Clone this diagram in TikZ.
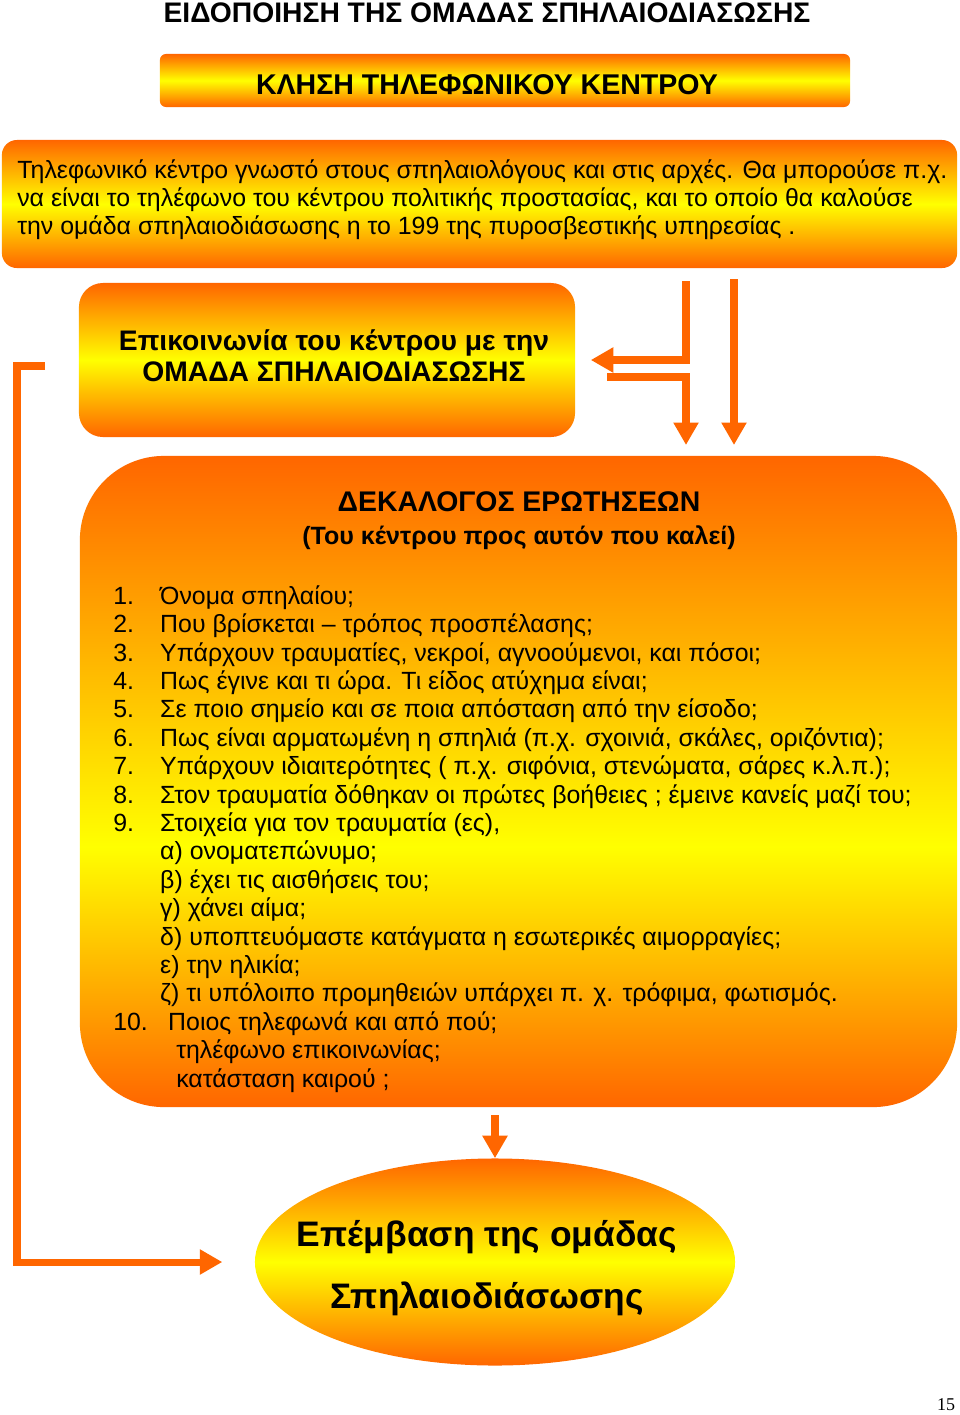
\documentclass[tikz,border=0pt]{standalone}
\usepackage{fontspec}
\setmainfont{Liberation Sans}
\newfontfamily\pagefont{Liberation Serif}
\usetikzlibrary{arrows.meta,positioning,shapes.geometric}

\definecolor{cavorange}{RGB}{255,102,0}
\definecolor{cavyellow}{RGB}{255,255,0}

% yellow band a little below the middle of the big box
\pgfdeclareverticalshading{cavbig}{100bp}{color(0bp)=(cavorange); color(25bp)=(cavorange); color(45bp)=(cavyellow); color(75bp)=(cavorange); color(100bp)=(cavorange)}

\newcommand{\firstline}{\rule{0pt}{14pt}}
\newcommand{\qnum}[1]{\makebox[33.4pt][l]{#1}}

\begin{document}
\begin{tikzpicture}[x=0.025cm,y=-0.025cm,
  glow/.style={top color=cavorange,bottom color=cavorange,middle color=cavyellow,inner sep=0pt},
  arr/.style={draw=cavorange,line width=5pt,-{Triangle[length=16pt,width=17pt]}},
  bodytext/.style={font=\fontsize{17.7}{20}\selectfont,inner sep=0pt,align=left},
  listtext/.style={font=\fontsize{17.7}{20.2}\selectfont,inner sep=0pt,align=left}]

\useasboundingbox[fill=white] (0,0) rectangle (960,1415);

% Title
\node[font=\bfseries\fontsize{20.1}{22}\selectfont] (title) at (487,12.5) {ΕΙΔΟΠΟΙΗΣΗ ΤΗΣ ΟΜΑΔΑΣ ΣΠΗΛΑΙΟΔΙΑΣΩΣΗΣ};

% Boxes
\node[glow,rounded corners=0.15cm,minimum width=17.25cm,minimum height=1.325cm] (call) at (505,80.5) {};
\node[font=\bfseries\fontsize{20.3}{22}\selectfont] (calltext) at (487,85) {ΚΛΗΣΗ ΤΗΛΕΦΩΝΙΚΟΥ ΚΕΝΤΡΟΥ};

\node[glow,rounded corners=0.375cm,minimum width=23.875cm,minimum height=3.2cm] (center) at (479.5,204) {};
\node[bodytext,anchor=north west] (centertext) at (17,158.3) {\firstline Τηλεφωνικό κέντρο γνωστό στους σπηλαιολόγους και στις αρχές. Θα μπορούσε π.χ.\\
να είναι το τηλέφωνο του κέντρου πολιτικής  προστασίας, και το οποίο θα καλούσε\\
την ομάδα σπηλαιοδιάσωσης η το 199 της πυροσβεστικής υπηρεσίας .};

\node[glow,rounded corners=0.6cm,minimum width=12.4cm,minimum height=3.85cm] (com) at (327,360) {};
\node[font=\bfseries\fontsize{20.1}{22}\selectfont,align=center] (comtext) at (334,356) {Επικοινωνία του κέντρου με την\\ ΟΜΑΔΑ ΣΠΗΛΑΙΟΔΙΑΣΩΣΗΣ};

\node[shading=cavbig,inner sep=0pt,rounded corners=2.1cm,minimum width=21.925cm,minimum height=16.275cm] (dek) at (518.5,781.5) {};
\node[font=\bfseries\fontsize{20.2}{22}\selectfont] (dektitle) at (519,502) {ΔΕΚΑΛΟΓΟΣ ΕΡΩΤΗΣΕΩΝ};
\node[font=\bfseries\fontsize{17.8}{20}\selectfont] (deksub) at (519,538) {(Του κέντρου προς αυτόν που καλεί)};
\node[listtext,anchor=north west] (quest) at (113,584.3) {\firstline\qnum{1.}Όνομα σπηλαίου;\\
\qnum{2.}Που βρίσκεται – τρόπος προσπέλασης;\\
\qnum{3.}Υπάρχουν τραυματίες, νεκροί, αγνοούμενοι, και πόσοι;\\
\qnum{4.}Πως έγινε και τι ώρα. Τι είδος ατύχημα είναι;\\
\qnum{5.}Σε ποιο σημείο και σε ποια απόσταση από την είσοδο;\\
\qnum{6.}Πως είναι αρματωμένη η σπηλιά (π.χ. σχοινιά, σκάλες, οριζόντια);\\
\qnum{7.}Υπάρχουν ιδιαιτερότητες ( π.χ. σιφόνια, στενώματα, σάρες κ.λ.π.);\\
\qnum{8.}Στον τραυματία δόθηκαν οι πρώτες βοήθειες ; έμεινε κανείς μαζί του;\\
\qnum{9.}Στοιχεία για τον τραυματία (ες),\\
\qnum{}α) ονοματεπώνυμο;\\
\qnum{}β) έχει τις αισθήσεις του;\\
\qnum{}γ) χάνει αίμα;\\
\qnum{}δ) υποπτευόμαστε κατάγματα η εσωτερικές  αιμορραγίες;\\
\qnum{}ε) την ηλικία;\\
\qnum{}ζ) τι υπόλοιπο προμηθειών υπάρχει π. χ. τρόφιμα, φωτισμός.\\
\makebox[39.1pt][l]{10.}Ποιος τηλεφωνά και από πού;\\
\hspace*{44.8pt}τηλέφωνο επικοινωνίας;\\
\hspace*{44.8pt}κατάσταση καιρού ;};

\node[glow,ellipse,minimum width=12cm,minimum height=5.175cm] (ell) at (495,1262) {};
\node[font=\bfseries\fontsize{25.2}{44}\selectfont,align=center] (elltext) at (487,1268) {Επέμβαση της ομάδας\\ Σπηλαιοδιάσωσης};

% Connectors
\coordinate (t1) at (686,281);
\coordinate (t2) at (607,377);
\coordinate (t3) at (686,445);
\coordinate (t4) at (734,279);
\coordinate (t5) at (734,445);
\draw[arr] (t1) |- ([xshift=11pt]com.east);
\draw[arr] (t2) -| (t3);
\draw[arr] (t4) -- (t5);

\coordinate (b1) at (45,366);
\coordinate (b2) at (17,1262);
\draw[arr] (b1) -| (b2) -- ([xshift=-23pt]ell.west);

\coordinate (d1) at (495,1115);
\draw[arr] (d1) -- (ell.north);

\node[font=\pagefont\fontsize{12.8}{14}\selectfont] (page) at (946,1405) {15};

\end{tikzpicture}
\end{document}
